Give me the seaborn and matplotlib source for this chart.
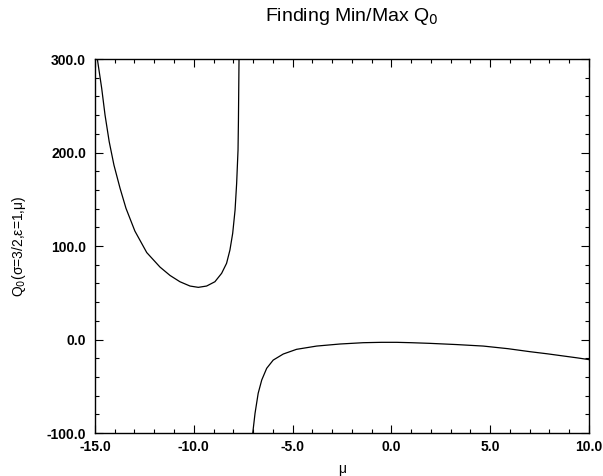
import matplotlib
matplotlib.use("Agg")
import matplotlib.pyplot as plt
import seaborn as sns
from matplotlib.ticker import MultipleLocator, FormatStrFormatter

# left branch (mu below the pole near -7.7)
mu_left = [-15.0, -14.88, -14.66, -14.49, -14.28, -14.04, -13.73, -13.43,
           -12.98, -12.38, -11.71, -11.2, -10.7, -10.19, -9.77, -9.35,
           -8.93, -8.59, -8.34, -8.17, -8.03, -7.91, -7.83, -7.76, -7.74,
           -7.71, -7.69]
q_left = [303.0, 300.0, 268.7, 240.0, 211.6, 186.6, 161.7, 140.3,
          116.0, 93.0, 77.5, 68.5, 61.8, 57.2, 55.8, 57.2,
          61.8, 70.8, 81.5, 95.7, 113.6, 138.5, 167.0, 202.7, 233.0,
          299.0, 330.0]

# right branch (mu above the pole near -7.05)
mu_right = [-7.05, -7.02, -6.9, -6.74, -6.56, -6.31, -5.98, -5.47, -4.8,
            -3.78, -2.6, -1.42, -0.5, 0.27, 1.0, 1.95, 3.3, 4.65, 5.9,
            7.01, 7.9, 8.7, 9.4, 10.0]
q_right = [-115.0, -101.0, -79.0, -57.5, -43.3, -30.8, -22.0, -15.5, -10.5,
           -7.0, -4.8, -3.4, -3.0, -3.0, -3.4, -4.1, -5.4, -7.0, -9.8,
           -13.0, -15.3, -17.6, -19.6, -21.5]

sns.set_style("ticks")
plt.rcParams["font.family"] = ["Liberation Sans", "DejaVu Sans"]
plt.rcParams["text.color"] = "black"
plt.rcParams["axes.labelcolor"] = "black"
plt.rcParams["xtick.color"] = "black"
plt.rcParams["ytick.color"] = "black"

fig = plt.figure(figsize=(6.03, 4.76), dpi=100)
ax = fig.add_axes([0.1575, 0.0903, 0.8192, 0.7857])

sns.lineplot(x=mu_left, y=q_left, ax=ax, color="black", lw=0.9, sort=False,
             estimator=None)
sns.lineplot(x=mu_right, y=q_right, ax=ax, color="black", lw=0.9, sort=False,
             estimator=None)

ax.set_xlim(-15, 10)
ax.set_ylim(-100, 300)
ax.xaxis.set_major_locator(MultipleLocator(5))
ax.xaxis.set_minor_locator(MultipleLocator(1))
ax.yaxis.set_major_locator(MultipleLocator(100))
ax.yaxis.set_minor_locator(MultipleLocator(20))
ax.xaxis.set_major_formatter(FormatStrFormatter("%.1f"))
ax.yaxis.set_major_formatter(FormatStrFormatter("%.1f"))
ax.tick_params(which="both", direction="in", top=True, right=True,
               color="black", labelcolor="black", width=0.8)
ax.tick_params(which="major", length=6, labelsize=10)
ax.tick_params(axis="x", which="major", pad=5)
ax.tick_params(axis="y", which="major", pad=6.5)
ax.tick_params(which="minor", length=3)
for lab in ax.get_xticklabels() + ax.get_yticklabels():
    lab.set_fontweight("bold")
for sp in ax.spines.values():
    sp.set_color("black")
    sp.set_linewidth(1.0)

ax.set_xlabel("μ", fontsize=10, labelpad=6)
ax.set_ylabel(r"Q$_0$(σ=3/2,ε=1,μ)", fontsize=10, labelpad=13)
fig.suptitle(r"Finding Min/Max Q$_0$", x=0.584, y=0.988, fontsize=14,
             color="black")

fig.savefig("out.png", dpi=100)
